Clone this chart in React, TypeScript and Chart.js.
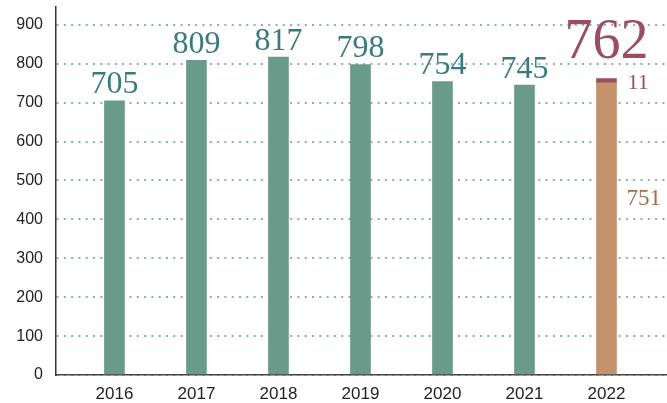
import React, { useEffect, useRef } from "react";
import { Chart, registerables } from "chart.js";

Chart.register(...registerables);

const years = ["2016", "2017", "2018", "2019", "2020", "2021", "2022"];
const greenValues = [705, 809, 817, 798, 754, 745, null];
const tanValues = [null, null, null, null, null, null, 751];
const maroonValues = [null, null, null, null, null, null, 11];
const totalLabel = 762;
const yTicks = [0, 100, 200, 300, 400, 500, 600, 700, 800, 900];

const GREEN = "#6a9a89";
const TEAL_TEXT = "#3a7a7c";
const TAN = "#c4926b";
const TAN_TEXT = "#9e6e4d";
const MAROON = "#9a4e61";

const labelPlugin = {
  id: "valueLabels",
  afterDatasetsDraw(chart: any) {
    const ctx = chart.ctx;
    ctx.save();
    const serif = "'Liberation Serif', 'Times New Roman', serif";
    const gMeta = chart.getDatasetMeta(0);
    gMeta.data.forEach((bar: any, i: number) => {
      const v = greenValues[i];
      if (v == null) return;
      ctx.font = `32px ${serif}`;
      ctx.fillStyle = TEAL_TEXT;
      ctx.textAlign = "center";
      ctx.textBaseline = "alphabetic";
      ctx.fillText(String(v), bar.x, bar.y - 7.5);
    });
    const tMeta = chart.getDatasetMeta(1);
    const mMeta = chart.getDatasetMeta(2);
    const last = years.length - 1;
    const tBar: any = tMeta.data[last];
    const mBar: any = mMeta.data[last];
    if (tBar && mBar) {
      const right = tBar.x + tBar.width / 2;
      ctx.font = `56px ${serif}`;
      ctx.fillStyle = MAROON;
      ctx.textAlign = "center";
      ctx.textBaseline = "alphabetic";
      ctx.fillText(String(totalLabel), mBar.x, mBar.y - 21);
      ctx.font = `22px ${serif}`;
      ctx.textAlign = "left";
      ctx.fillText(String(maroonValues[last]), right + 11, mBar.y + 10);
      ctx.font = `23px ${serif}`;
      ctx.fillStyle = TAN_TEXT;
      ctx.textBaseline = "middle";
      const ty = tBar.base + (tBar.y - tBar.base) * 0.6;
      ctx.fillText(String(tanValues[last]), right + 10, ty);
    }
    ctx.restore();
  },
};

export default function App() {
  const ref = useRef<HTMLCanvasElement>(null);
  useEffect(() => {
    if (!ref.current) return;
    const toPoints = (arr: (number | null)[]) =>
      arr.map((v, i) => ({ x: i, y: v }));
    const zeroPad = (scale: any) => {
      scale.paddingTop = 0;
      scale.paddingBottom = 0;
      scale.paddingLeft = 0;
      scale.paddingRight = 0;
    };
    const chart = new Chart(ref.current, {
      type: "bar",
      data: {
        datasets: [
          { data: toPoints(greenValues) as any, backgroundColor: GREEN, barThickness: 20, borderWidth: 0 },
          { data: toPoints(tanValues) as any, backgroundColor: TAN, barThickness: 20, borderWidth: 0 },
          { data: toPoints(maroonValues) as any, backgroundColor: MAROON, barThickness: 20, borderWidth: 0 },
        ],
      },
      options: {
        animation: false,
        responsive: false,
        layout: { padding: { top: 7, left: 0, right: 0, bottom: 0 } },
        plugins: { legend: { display: false }, tooltip: { enabled: false } },
        scales: {
          x: {
            type: "linear",
            stacked: true,
            offset: false,
            min: -0.713,
            max: 6.738,
            afterBuildTicks: (scale: any) => {
              scale.ticks = years.map((_, i) => ({ value: i }));
            },
            afterFit: (scale: any) => {
              scale.height = 28;
              zeroPad(scale);
            },
            grid: { display: false, drawTicks: false, offset: false },
            border: { display: true, color: "#444", width: 1.5 },
            ticks: {
              color: "#222",
              padding: 9,
              font: { family: "'Liberation Sans', Arial, sans-serif", size: 17 },
              callback: (v: any) => years[v] ?? "",
              maxRotation: 0,
              autoSkip: false,
            },
          },
          y: {
            stacked: true,
            min: 0,
            max: 946,
            afterBuildTicks: (scale: any) => {
              scale.ticks = yTicks.map((v) => ({ value: v }));
            },
            afterFit: (scale: any) => {
              scale.width = 56;
              zeroPad(scale);
            },
            grid: { color: "#8eaeb3", lineWidth: 2, drawTicks: false },
            border: { display: true, color: "#333", width: 1.5, dash: [2, 5.3] },
            ticks: {
              color: "#222",
              padding: 13,
              font: { family: "'Liberation Sans', Arial, sans-serif", size: 16 },
            },
          },
        },
      },
      plugins: [labelPlugin],
    });
    return () => chart.destroy();
  }, []);
  return (
    <div style={{ position: "absolute", left: 0, top: 0, width: 667, height: 403 }}>
      <canvas ref={ref} width={667} height={403} style={{ display: "block" }} />
    </div>
  );
}
